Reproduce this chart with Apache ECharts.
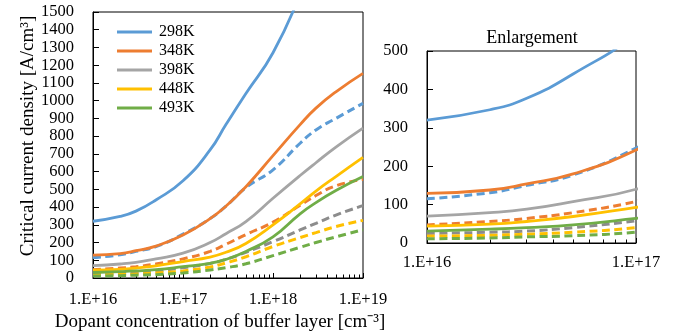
<!DOCTYPE html>
<html><head><meta charset="utf-8">
<script src="https://cdn.jsdelivr.net/npm/echarts@6/dist/echarts.min.js"></script>
<style>html,body{margin:0;padding:0;background:#fff}#c{width:673px;height:331px}</style>
</head><body><div id="c"></div>
<script>
// ---- data ----
const concentrations = [1e16, 2e16, 3e16, 5e16, 1e17, 2e17, 3e17, 5e17, 1e18, 2e18, 3e18, 5e18, 1e19];
const temperatures = ['298K', '348K', '398K', '448K', '493K'];
const solid298 = [320, 347, 377, 440, 548, 722, 865, 1040, 1270, 1600, null, null, null];
const solid348 = [129, 138, 154, 180, 242, 335, 405, 515, 690, 865, 958, 1050, 1154];
const solid398 = [70, 79, 88, 108, 140, 200, 250, 318, 450, 578, 650, 738, 845];
const solid448 = [44, 49, 56, 69, 93, 118, 145, 195, 300, 418, 490, 572, 680];
const solid493 = [31, 36, 40, 47, 64, 83, 105, 150, 232, 362, 425, 493, 572];
const dashed298 = [115, 131, 150, 177, 247, 335, 405, 510, 610, 760, 835, 900, 985];
const dashed348 = [47, 56, 64, 79, 108, 150, 190, 245, 315, 410, 465, 520, 556];
const dashed398 = [25, 28, 31, 40, 58, 82, 105, 145, 205, 271, 308, 355, 408];
const dashed448 = [18, 20, 23, 28, 40, 62, 85, 120, 178, 228, 256, 290, 325];
const dashed493 = [11, 13, 16, 19, 28, 45, 58, 80, 126, 173, 200, 232, 272];
const majorTicksMain = [1e16, 1e17, 1e18, 1e19];
const majorTicksZoom = [1e16, 1e17];
const minorMultipliers = [2, 3, 4, 5, 6, 7, 8, 9];
const xAxisTitle = 'Dopant concentration of buffer layer [cm\u207B\u00B3]';
const yAxisTitle = 'Critical current density [A/cm\u00B3]';
const zoomTitle = 'Enlargement';

// ---- build ----
const FONT = '"Liberation Serif", "Times New Roman", serif';
const colors = ['#5B9BD5', '#ED7D31', '#A5A5A5', '#FFC000', '#70AD47'];
const dashedColors = ['#5B9BD5', '#ED7D31', '#8C8C8C', '#FFC000', '#70AD47'];
const solids = [solid298, solid348, solid398, solid448, solid493];
const dashes = [dashed298, dashed348, dashed398, dashed448, dashed493];

function minors(fromExp, toExp) {
  const out = [];
  for (let e = fromExp; e < toExp; e++) minorMultipliers.forEach(m => out.push(m * Math.pow(10, e)));
  return out;
}
const pairs = vals => concentrations.map((c, i) => [c, vals[i]]);
const fmt = v => '1.E+' + Math.round(Math.log10(v));

function mainX(grid, min, max, ticks, margin) {
  return {
    type: 'log', logBase: 10, gridIndex: grid, min: min, max: max, position: 'bottom',
    axisLine: { show: true, lineStyle: { color: '#000', width: 1 } },
    axisTick: { show: true, inside: true, length: 5, customValues: ticks, lineStyle: { color: '#000', width: 1 } },
    axisLabel: { show: true, customValues: ticks, formatter: fmt, fontFamily: FONT, fontSize: 16.5, color: '#000', margin: margin },
    splitLine: { show: false }, minorTick: { show: false }
  };
}
function minorX(grid, min, max, ticks) {
  return {
    type: 'log', logBase: 10, gridIndex: grid, min: min, max: max, position: 'bottom',
    axisLine: { show: false },
    axisTick: { show: true, inside: true, length: 3.5, customValues: ticks, lineStyle: { color: '#000', width: 1 } },
    axisLabel: { show: false }, splitLine: { show: false }
  };
}
function valY(grid, max) {
  return {
    type: 'value', gridIndex: grid, min: 0, max: max, interval: 100,
    axisLine: { show: true, lineStyle: { color: '#000', width: 1 } },
    axisTick: { show: true, inside: true, length: 6, lineStyle: { color: '#000', width: 1 } },
    axisLabel: { fontFamily: FONT, fontSize: 16.5, color: '#000', margin: 19, formatter: v => String(v) },
    splitLine: { show: false }
  };
}

const series = [];
[[0, 0], [2, 1]].forEach(([xi, yi]) => {
  dashes.forEach((d, k) => series.push({
    name: temperatures[k] + ' dashed', type: 'line', xAxisIndex: xi, yAxisIndex: yi,
    data: pairs(d), showSymbol: false, symbol: 'none', smooth: 0.5, clip: true,
    lineStyle: { color: dashedColors[k], width: 3, type: [8, 4.5], cap: 'butt' },
    itemStyle: { color: dashedColors[k] }, z: 2
  }));
  solids.forEach((s, k) => series.push({
    name: temperatures[k], type: 'line', xAxisIndex: xi, yAxisIndex: yi,
    data: pairs(s), showSymbol: false, symbol: 'none', smooth: 0.5, clip: true,
    lineStyle: { color: colors[k], width: 2.8 }, itemStyle: { color: colors[k] }, z: 3
  }));
});

const yMain = valY(0, 1500);
yMain.name = yAxisTitle; yMain.nameLocation = 'middle'; yMain.nameGap = 54;
yMain.nameTextStyle = { fontFamily: FONT, fontSize: 19, color: '#000', padding: [0, 0, 0, 18] };
const xMain = mainX(0, 1e16, 1e19, majorTicksMain, 13);
xMain.name = xAxisTitle; xMain.nameLocation = 'middle'; xMain.nameGap = 32;
xMain.nameTextStyle = { fontFamily: FONT, fontSize: 19, color: '#000', padding: [0, 16, 0, 0] };

const option = {
  animation: false,
  backgroundColor: '#fff',
  grid: [
    { left: 93, top: 12, width: 270, height: 266, show: true, borderColor: '#000', borderWidth: 1, backgroundColor: 'transparent', outerBoundsMode: 'none', containLabel: false },
    { left: 427, top: 51, width: 209, height: 192, show: true, borderColor: '#000', borderWidth: 1, backgroundColor: 'transparent', outerBoundsMode: 'none', containLabel: false }
  ],
  xAxis: [
    xMain,
    minorX(0, 1e16, 1e19, minors(16, 19)),
    mainX(1, 1e16, 1e17, majorTicksZoom, 11),
    minorX(1, 1e16, 1e17, minors(16, 17))
  ],
  yAxis: [yMain, valY(1, 500)],
  legend: {
    data: temperatures, orient: 'vertical', left: 112, top: 19,
    icon: 'rect', itemWidth: 35, itemHeight: 3, itemGap: 3,
    textStyle: { fontFamily: FONT, fontSize: 16, color: '#000', padding: [0, 0, 0, 2] }
  },
  graphic: [{
    type: 'text', x: 532, y: 38,
    style: { text: zoomTitle, font: '18px ' + FONT, fill: '#000', textAlign: 'center', textVerticalAlign: 'middle' }
  }],
  series: series
};
const chart = echarts.init(document.getElementById('c'), null, { renderer: 'canvas' });
chart.setOption(option);
</script></body></html>
